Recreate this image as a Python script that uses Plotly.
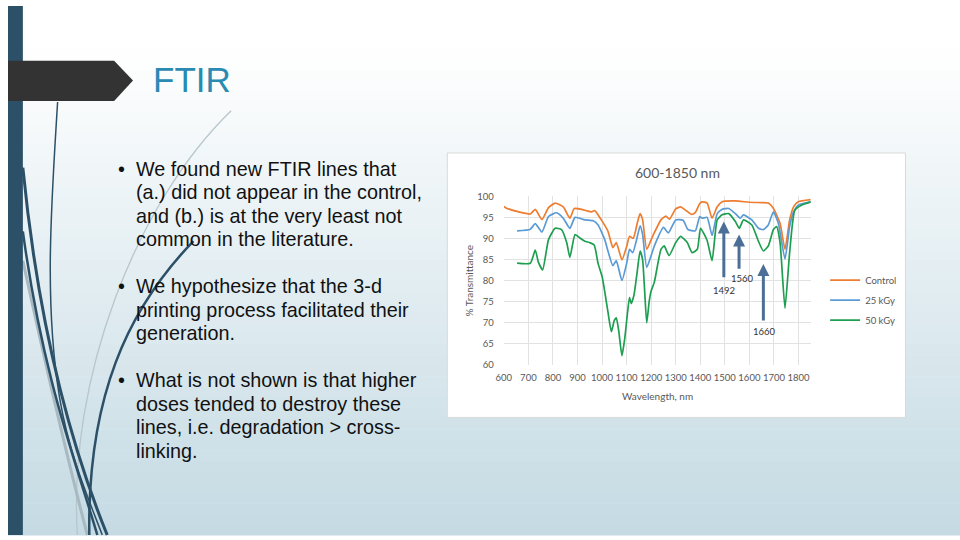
import plotly.graph_objects as go

# ---------------- data ----------------
wl_control = [600, 607, 661, 708, 728, 755, 782, 809, 842, 869, 887, 930, 957, 970, 997, 1024,
              1044, 1058, 1081, 1100, 1112, 1127, 1145, 1155, 1165, 1182, 1206, 1240, 1260, 1275,
              1300, 1320, 1345, 1365, 1380, 1398, 1408, 1428, 1448, 1469, 1489, 1543, 1600, 1650,
              1677, 1698, 1725, 1745, 1764, 1780, 1799, 1850]
control = [97.6, 97.3, 96.3, 95.8, 96.9, 94.5, 97.3, 98.4, 97.5, 94.8, 97.1, 96.7, 96.3, 96.6, 94.4, 91.7,
           87.8, 89.0, 84.9, 88.0, 90.5, 90.0, 94.0, 95.9, 94.5, 87.4, 90.5, 94.4, 95.3, 94.6,
           97.0, 97.5, 96.5, 95.7, 96.2, 98.3, 98.7, 98.4, 94.8, 97.5, 98.7, 98.9, 98.6, 98.5,
           98.4, 97.1, 93.6, 87.4, 94.4, 97.5, 98.7, 99.2]

wl_25 = [654, 708, 728, 755, 782, 815, 842, 869, 890, 930, 964, 984, 1011, 1024, 1044, 1058, 1081,
         1100, 1112, 1125, 1140, 1155, 1165, 1182, 1213, 1250, 1270, 1300, 1330, 1350, 1380, 1398,
         1408, 1428, 1448, 1469, 1489, 1516, 1543, 1563, 1576, 1610, 1637, 1657, 1677, 1698, 1718,
         1745, 1764, 1780, 1799, 1850]
kgy25 = [91.8, 92.2, 93.5, 91.5, 95.2, 96.1, 94.8, 92.4, 95.0, 94.4, 94.2, 93.2, 89.7, 87.0, 83.5, 84.7, 80.0,
         84.0, 87.4, 86.6, 89.5, 93.0, 91.0, 83.1, 88.2, 92.6, 91.3, 94.4, 94.3, 92.1, 91.8, 95.2,
         94.8, 95.0, 90.7, 95.9, 96.9, 97.1, 95.9, 94.8, 95.6, 94.4, 92.4, 92.1, 93.2, 96.3, 93.6,
         85.1, 92.8, 96.3, 97.9, 98.7]

wl_50 = [654, 708, 728, 741, 758, 782, 809, 835, 856, 869, 890, 910, 930, 950, 968, 984, 1000, 1012,
         1024, 1038, 1050, 1058, 1068, 1081, 1092, 1105, 1112, 1119, 1130, 1143, 1155, 1165, 1173,
         1182, 1192, 1200, 1213, 1240, 1253, 1273, 1300, 1320, 1347, 1367, 1388, 1401, 1428, 1448,
         1469, 1489, 1516, 1543, 1559, 1576, 1610, 1637, 1657, 1677, 1698, 1711, 1725, 1745, 1764,
         1785, 1812, 1850]
kgy50 = [84.1, 84.1, 87.2, 84.3, 82.5, 89.7, 92.4, 92.1, 89.0, 85.5, 90.9, 90.1, 89.3, 89.0, 88.4, 84.0, 81.0, 77.0,
         72.5, 67.8, 70.5, 71.1, 68.0, 62.1, 66.0, 73.0, 76.0, 74.5, 76.5, 82.0, 87.0, 85.0, 78.0,
         69.9, 75.0, 77.5, 79.6, 87.4, 88.2, 85.9, 89.0, 90.5, 89.0, 86.6, 87.4, 92.4, 89.5, 84.7,
         94.4, 95.6, 95.9, 94.0, 92.4, 94.4, 93.2, 89.3, 87.0, 88.2, 92.1, 92.8, 89.0, 73.4, 86.6,
         96.7, 97.9, 98.7]

series_names = ["Control", "25 kGy", "50 kGy"]
series_colors = ["#ED7D31", "#5B9BD5", "#1E9E50"]

x_ticks = [600, 700, 800, 900, 1000, 1100, 1200, 1300, 1400, 1500, 1600, 1700, 1800]
y_ticks = [60, 65, 70, 75, 80, 85, 90, 95, 100]

# annotated peaks: label, arrow x, arrow tail y, arrow head y, label x, label y
peak_labels = ["1492", "1560", "1660"]
peak_x = [1496, 1558, 1657]
peak_tail = [80.4, 82.4, 70.1]
peak_head = [94.0, 90.9, 83.9]
label_x = [1496, 1574, 1660]
label_y = [77.7, 80.4, 67.8]

slide_title = "FTIR"
bullets = [
    ["We found new FTIR lines that", "(a.) did not appear in the control,",
     "and (b.) is at the very least not", "common in the literature."],
    ["We hypothesize that the 3-d", "printing process facilitated their", "generation."],
    ["What is not shown is that higher", "doses tended to destroy these",
     "lines, i.e. degradation > cross-", "linking."],
]

# ---------------- helpers ----------------
W, H = 960, 540


def px(x):
    return x / W


def py(y):
    return 1 - y / H


CHART_FONT = "Lato, 'Open Sans', sans-serif"
TEXT_FONT = "'Liberation Sans', Arial, sans-serif"

fig = go.Figure()
for name, xs, ys, col in zip(series_names, [wl_control, wl_25, wl_50],
                             [control, kgy25, kgy50], series_colors):
    fig.add_trace(go.Scatter(
        x=xs, y=ys, mode="lines", name=name, legendgroup=name,
        line=dict(color=col, width=1.7, shape="spline", smoothing=0.5),
        hoverinfo="skip"))

shapes = []
# background gradient bands
top_c = (255, 255, 255)
bot_c = (196, 218, 227)
n_bands = 50
for i in range(n_bands):
    y0 = i * H / n_bands
    y1 = (i + 1) * H / n_bands + 0.5
    t = max(0.0, ((y0 + y1) / 2 - 40) / (H - 40))
    c = tuple(round(top_c[k] + (bot_c[k] - top_c[k]) * t) for k in range(3))
    shapes.append(dict(type="rect", xref="paper", yref="paper", layer="below",
                       x0=0, x1=1, y0=py(y1), y1=py(y0), line=dict(width=0),
                       fillcolor="rgb(%d,%d,%d)" % c))


def bez(pts):
    s = "M %.4f,%.4f" % (px(pts[0][0]), py(pts[0][1]))
    rest = pts[1:]
    for j in range(0, len(rest), 3):
        a, b, c = rest[j:j + 3]
        s += " C %.4f,%.4f %.4f,%.4f %.4f,%.4f" % (px(a[0]), py(a[1]), px(b[0]), py(b[1]), px(c[0]), py(c[1]))
    return s


curves = [
    ([(225, 107), (130, 200), (60, 380), (70, 540)], "#b7c6cd", 1.3),
    ([(15, 260), (45, 400), (62, 470), (80, 540)], "#a9b9c1", 3),
    ([(50, 98), (44, 200), (36, 300), (52, 400), (62, 460), (84, 510), (95, 540)], "#2c5067", 1.5),
    ([(15, 165), (30, 320), (60, 440), (100, 540)], "#2c5067", 3),
    ([(15, 230), (35, 380), (70, 470), (90, 540)], "#2c5067", 2.5),
    ([(187, 240), (120, 310), (80, 400), (82, 540)], "#2c5067", 2.5),
]
for pts, col, w in curves:
    shapes.append(dict(type="path", xref="paper", yref="paper", layer="below",
                       path=bez(pts), line=dict(color=col, width=w)))

# left bar
shapes.append(dict(type="rect", xref="paper", yref="paper", layer="below",
                   x0=0, x1=px(15), y0=0, y1=1, line=dict(width=0), fillcolor="#2c5067"))
# title banner
banner = [(0, 56), (107, 56), (126, 76), (107, 97), (0, 97)]
bpath = "M " + " L ".join("%.4f,%.4f" % (px(a), py(b)) for a, b in banner) + " Z"
shapes.append(dict(type="path", xref="paper", yref="paper", layer="below",
                   path=bpath, fillcolor="#333333", line=dict(width=0)))
# chart box
shapes.append(dict(type="rect", xref="paper", yref="paper", layer="below",
                   x0=px(443), x1=px(905), y0=py(420), y1=py(150),
                   fillcolor="white", line=dict(color="#d9d9d9", width=1)))

annotations = []
annotations.append(dict(text=slide_title, x=px(144), y=py(75), xref="paper", yref="paper",
                        xanchor="left", yanchor="middle", showarrow=False,
                        font=dict(family=TEXT_FONT, size=35, color="#2a8ab2")))
line_y0 = [166, 286, 382]
for bi, lines in enumerate(bullets):
    annotations.append(dict(text="•", x=px(109), y=py(line_y0[bi]), xref="paper", yref="paper",
                            xanchor="left", yanchor="middle", showarrow=False,
                            font=dict(family=TEXT_FONT, size=19.8, color="#111111")))
    for li, ln in enumerate(lines):
        annotations.append(dict(text=ln, x=px(127), y=py(line_y0[bi] + 24 * li),
                                xref="paper", yref="paper", xanchor="left", yanchor="middle",
                                showarrow=False,
                                font=dict(family=TEXT_FONT, size=19.8, color="#111111")))

# chart texts
annotations.append(dict(text="600-1850 nm", x=px(675), y=py(170), xref="paper", yref="paper",
                        xanchor="center", yanchor="middle", showarrow=False,
                        font=dict(family=CHART_FONT, size=14, color="#595959")))
annotations.append(dict(text="% Transmittance", x=px(465), y=py(280), xref="paper", yref="paper",
                        xanchor="center", yanchor="middle", showarrow=False, textangle=-90,
                        font=dict(family=CHART_FONT, size=10, color="#595959")))
annotations.append(dict(text="Wavelength, nm", x=px(655), y=py(398), xref="paper", yref="paper",
                        xanchor="center", yanchor="middle", showarrow=False,
                        font=dict(family=CHART_FONT, size=10, color="#595959")))

for lab, x, yt, yh, lx, ly in zip(peak_labels, peak_x, peak_tail, peak_head, label_x, label_y):
    annotations.append(dict(x=x, y=yh, ax=x, ay=yt, xref="x", yref="y", axref="x", ayref="y",
                            text="", showarrow=True, arrowhead=2, arrowsize=0.8, arrowwidth=3,
                            arrowcolor="#4C6F97", standoff=0, startstandoff=0))
    annotations.append(dict(x=lx, y=ly, xref="x", yref="y", text=lab, showarrow=False,
                            xanchor="center", yanchor="middle",
                            font=dict(family=CHART_FONT, size=9.5, color="#333333")))

axis_font = dict(family=CHART_FONT, size=9.5, color="#595959")
fig.update_layout(
    width=W, height=H, autosize=False,
    margin=dict(l=0, r=0, t=0, b=0, pad=0),
    paper_bgcolor="white", plot_bgcolor="rgba(0,0,0,0)",
    shapes=shapes, annotations=annotations,
    xaxis=dict(domain=[px(500), px(809.5)], range=[600, 1850], tickvals=x_ticks,
               showgrid=True, gridcolor="#e2e2e2", gridwidth=1, zeroline=False, showline=False,
               ticks="", tickfont=axis_font, ticklabelstandoff=6, fixedrange=True),
    yaxis=dict(domain=[py(366), py(194.3)], range=[60, 100], tickvals=y_ticks,
               showgrid=True, gridcolor="#e2e2e2", gridwidth=1, zeroline=False, showline=False,
               ticks="", tickfont=axis_font, ticklabelstandoff=9, fixedrange=True),
    legend=dict(x=px(824), y=py(265), xanchor="left", yanchor="top",
                bgcolor="rgba(0,0,0,0)", font=dict(family=CHART_FONT, size=9.5, color="#595959"),
                tracegroupgap=1, itemwidth=30),
    showlegend=True,
)

# pin the 960x540 figure to the window's top-left corner (no default body margin)
pin = (
    "var g=document.getElementById('{plot_id}');"
    "var e=g.parentElement;"
    "while(e){e.style.margin='0';e.style.padding='0';e.style.border='0';e=e.parentElement;}"
    "g.style.position='fixed';g.style.left='0px';g.style.top='0px';g.style.margin='0';"
    "document.documentElement.style.overflow='hidden';"
)
fig.write_html("out.html", config={"displayModeBar": False}, post_script=pin)
